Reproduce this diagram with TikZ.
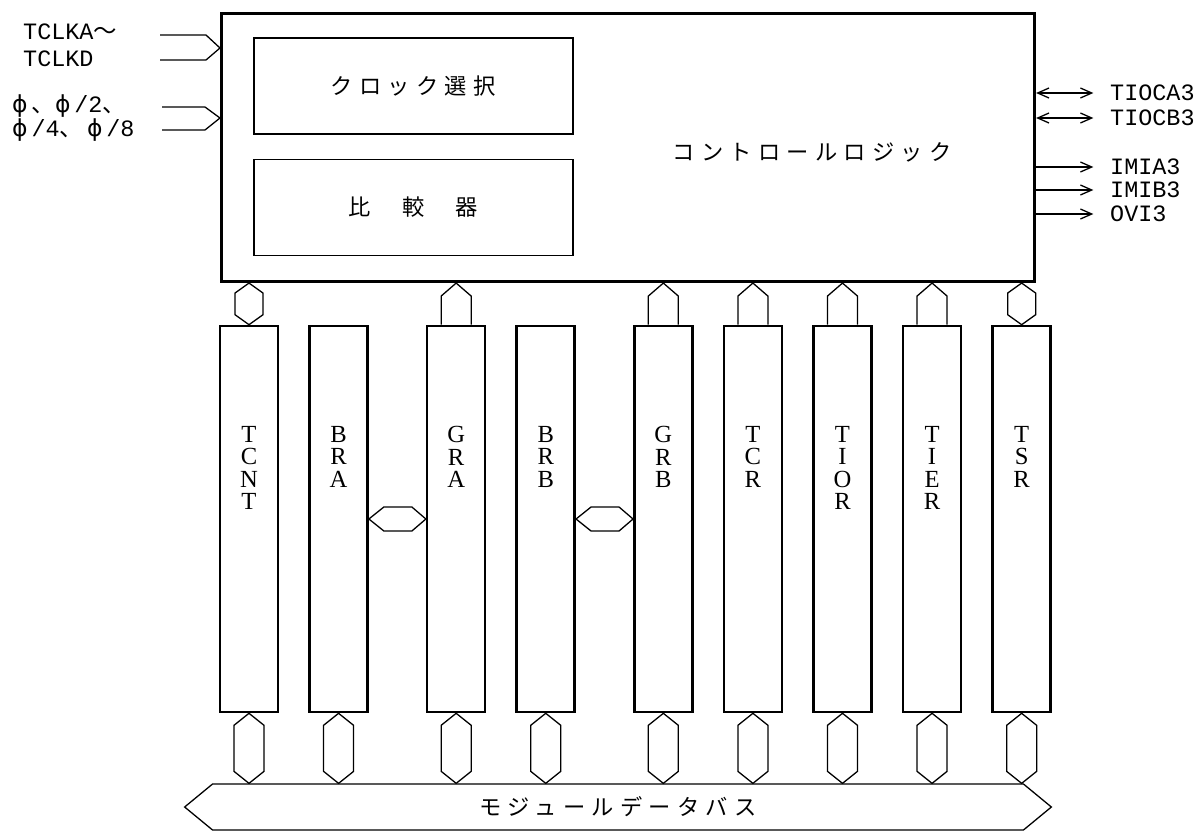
\documentclass[tikz,border=0pt]{standalone}
\usepackage{fontspec}
\setmainfont{Liberation Serif}
\setmonofont{Liberation Mono}
\newfontfamily\jpf{Noto Sans CJK JP}
\newfontfamily\jpsp{Noto Sans CJK JP}[LetterSpace=28]
\newfontfamily\phif{DejaVu Sans}
\usetikzlibrary{arrows.meta,positioning,shapes.arrows}

\begin{document}
\begin{tikzpicture}[x=0.03cm, y=-0.03cm,
  ctl/.style={rectangle, draw, line width=2.6pt, inner sep=0pt,
              minimum width=24.39cm, minimum height=8.04cm},
  inbox/.style={rectangle, draw, line width=1.3pt, inner sep=0pt,
                minimum width=9.57cm, minimum height=2.88cm,
                font=\jpsp\fontsize{19}{22}\selectfont},
  jp/.style={inner sep=0pt, font=\jpsp\fontsize{19}{22}\selectfont},
  reg/.style={rectangle, draw, line width=2.2pt, inner sep=0pt,
              minimum width=1.74cm, minimum height=11.58cm},
  reglbl/.style={align=center, inner sep=0pt, font=\fontsize{21}{19}\selectfont},
  sig/.style={inner sep=0pt, font=\ttfamily\fontsize{20}{23}\selectfont},
  line/.style={line width=1.1pt},
  conn/.style={line width=1.1pt, line join=miter},
  hexv/.style={conn, to path={-- ([shift={(14,10)}]\tikztostart)
    -- ([shift={(14,-10)}]\tikztotarget) -- (\tikztotarget)
    -- ([shift={(-14,-10)}]\tikztotarget) -- ([shift={(-14,10)}]\tikztostart) -- cycle}},
  hexb/.style={conn, to path={-- ([shift={(15,12)}]\tikztostart)
    -- ([shift={(15,-12)}]\tikztotarget) -- (\tikztotarget)
    -- ([shift={(-15,-12)}]\tikztotarget) -- ([shift={(-15,12)}]\tikztostart) -- cycle}},
  hexh/.style={conn, to path={-- ([shift={(15,-12)}]\tikztostart)
    -- ([shift={(-14,-12)}]\tikztotarget) -- (\tikztotarget)
    -- ([shift={(-14,12)}]\tikztotarget) -- ([shift={(15,12)}]\tikztostart) -- cycle}},
  penta/.style={conn, to path={([shift={(-15,0)}]\tikztostart)
    -- ([shift={(-15,13)}]\tikztotarget) -- (\tikztotarget)
    -- ([shift={(15,13)}]\tikztotarget) -- ([shift={(15,0)}]\tikztostart)}},
  bus/.style={double arrow, draw, line width=1.1pt, inner sep=0pt,
              double arrow head extend=0pt, double arrow tip angle=79,
              minimum height=26cm, minimum width=1.38cm,
              font=\jpsp\fontsize{19}{22}\selectfont},
  arr/.style={line width=1.1pt, -{Straight Barb[length=3.4mm, width=3mm]}},
  biarr/.style={line width=1.1pt,
                {Straight Barb[length=3.4mm, width=3mm]}-{Straight Barb[length=3.4mm, width=3mm]}}]

\useasboundingbox (0,0) rectangle (1198,835);

% control block
\node[ctl, anchor=north west] (ctrl) at (220,12) {};
\node[inbox, anchor=north west] (clk) at (253,37) {クロック選択};
\node[inbox, below=0.72cm of clk] (cmp) {比\hspace{1.4em}較\hspace{1.4em}器};
\node[jp] (logic) at (812,152) {コントロールロジック};

% clock inputs
\node[sig, anchor=north west, align=left] (tclk) at (23,24) {TCLKA{\jpf ～}\\TCLKD};
\node[sig, anchor=west, align=left, font=\ttfamily\fontsize{20}{20.5}\selectfont] (phi) at (12,118)
  {{\phif ϕ}\,{\jpf 、}{\phif ϕ}\,/2{\jpf 、}\\{\phif ϕ}\,/4{\jpf 、}\,{\phif ϕ}\,/8};
\coordinate (tclk-in) at (220,48);
\coordinate (phi-in) at (220,118);
\draw[line] (160,35) -- (206,35) -- (tclk-in) -- (206,60) -- (160,60);
\draw[line] (162,107) -- (205,107) -- (phi-in) -- (205,130) -- (162,130);

% timer outputs
\node[sig, anchor=west] (tioca) at (1110,93) {TIOCA3};
\node[sig, anchor=west] (tiocb) at (1110,118) {TIOCB3};
\node[sig, anchor=west] (imia) at (1110,167) {IMIA3};
\node[sig, anchor=west] (imib) at (1110,190) {IMIB3};
\node[sig, anchor=west] (ovi) at (1110,214) {OVI3};
\draw[biarr] (ctrl.east |- tioca.west) -- ([xshift=-0.5cm]tioca.west);
\draw[biarr] (ctrl.east |- tiocb.west) -- ([xshift=-0.5cm]tiocb.west);
\draw[arr] (ctrl.east |- imia.west) -- ([xshift=-0.5cm]imia.west);
\draw[arr] (ctrl.east |- imib.west) -- ([xshift=-0.5cm]imib.west);
\draw[arr] (ctrl.east |- ovi.west) -- ([xshift=-0.5cm]ovi.west);

% registers
\node[reg] (tcnt) at (249,519) {};
\node[reg, right=0.87cm of tcnt] (bra) {};
\node[reg, right=1.71cm of bra] (gra) {};
\node[reg, right=0.87cm of gra] (brb) {};
\node[reg, right=1.71cm of brb] (grb) {};
\node[reg, right=0.87cm of grb] (tcr) {};
\node[reg, right=0.87cm of tcr] (tior) {};
\node[reg, right=0.87cm of tior] (tier) {};
\node[reg, right=0.87cm of tier] (tsr) {};

\node[reglbl, below=3.05cm of tcnt.north] (tcnt-l) {T\\C\\N\\T};
\node[reglbl, below=3.05cm of bra.north] (bra-l) {B\\R\\A};
\node[reglbl, below=3.05cm of gra.north] (gra-l) {G\\R\\A};
\node[reglbl, below=3.05cm of brb.north] (brb-l) {B\\R\\B};
\node[reglbl, below=3.05cm of grb.north] (grb-l) {G\\R\\B};
\node[reglbl, below=3.05cm of tcr.north] (tcr-l) {T\\C\\R};
\node[reglbl, below=3.05cm of tior.north] (tior-l) {T\\I\\O\\R};
\node[reglbl, below=3.05cm of tier.north] (tier-l) {T\\I\\E\\R};
\node[reglbl, below=3.05cm of tsr.north] (tsr-l) {T\\S\\R};

% links to control block
\draw[hexv] (tcnt.north |- ctrl.south) to (tcnt.north);
\draw[penta] (gra.north) to (gra.north |- ctrl.south);
\draw[penta] (grb.north) to (grb.north |- ctrl.south);
\draw[penta] (tcr.north) to (tcr.north |- ctrl.south);
\draw[penta] (tior.north) to (tior.north |- ctrl.south);
\draw[penta] (tier.north) to (tier.north |- ctrl.south);
\draw[hexv] (tsr.north |- ctrl.south) to (tsr.north);

\draw[hexh] (bra.east) to (gra.west);
\draw[hexh] (brb.east) to (grb.west);

% module data bus
\node[bus] (bus) at (618,807) {モジュールデータバス};
\draw[hexb] (tcnt.south) to (tcnt.south |- bus.north);
\draw[hexb] (bra.south) to (bra.south |- bus.north);
\draw[hexb] (gra.south) to (gra.south |- bus.north);
\draw[hexb] (brb.south) to (brb.south |- bus.north);
\draw[hexb] (grb.south) to (grb.south |- bus.north);
\draw[hexb] (tcr.south) to (tcr.south |- bus.north);
\draw[hexb] (tior.south) to (tior.south |- bus.north);
\draw[hexb] (tier.south) to (tier.south |- bus.north);
\draw[hexb] (tsr.south) to (tsr.south |- bus.north);
\end{tikzpicture}
\end{document}
